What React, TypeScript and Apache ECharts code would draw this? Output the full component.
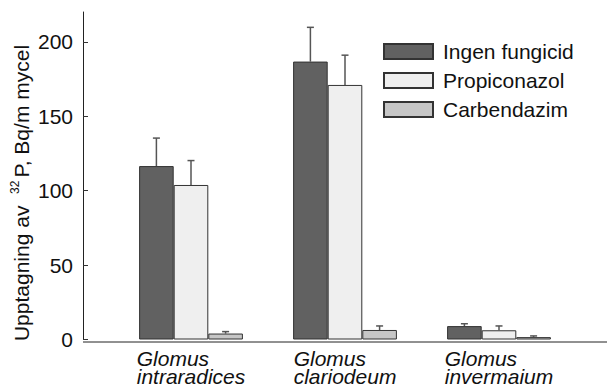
import React, { useEffect, useRef } from "react";
import * as echarts from "echarts";

const categories = ["Glomus intraradices", "Glomus clariodeum", "Glomus invermaium"];
const seriesNames = ["Ingen fungicid", "Propiconazol", "Carbendazim"];
const ingenValues = [116.5, 186.7, 9.0];
const propiValues = [103.8, 171.0, 6.2];
const carbValues = [4.0, 6.4, 1.6];
const ingenErr = [18.8, 23.0, 1.6];
const propiErr = [16.4, 20.0, 2.9];
const carbErr = [1.3, 2.7, 0.8];
const yTicks = { min: 0, max: 220, interval: 50 };
const yAxisTitle = "{n|Upptagning av  }{sup|32}{n|P, Bq/m mycel}";

const FONT = "'Liberation Sans', Arial, sans-serif";
const W = 607;
const H = 387;
const GRID_LEFT = 114;
const GRID_RIGHT = 31;
const GRID_TOP = 12;
const GRID_BOTTOM = 45;
const Y_OFFSET = 31;
const BAR_W = 34.6;
const COLORS = ["#616161", "#efefef", "#c6c6c6"];

export default function App() {
  const ref = useRef<HTMLDivElement>(null);
  useEffect(() => {
    if (!ref.current) return;
    const chart = echarts.init(ref.current, undefined, { renderer: "svg" });
    const values = [ingenValues, propiValues, carbValues];
    const errs = [ingenErr, propiErr, carbErr];
    const errData: number[][] = [];
    values.forEach((arr, s) =>
      arr.forEach((v, i) => errData.push([i, v, errs[s][i], s]))
    );
    const axisX = GRID_LEFT - Y_OFFSET;
    const axisY = H - GRID_BOTTOM;
    chart.setOption({
      animation: false,
      textStyle: { fontFamily: FONT },
      grid: { left: GRID_LEFT, right: GRID_RIGHT, top: GRID_TOP, bottom: GRID_BOTTOM, containLabel: false },
      legend: {
        data: seriesNames,
        orient: "vertical",
        left: 383,
        top: 41,
        padding: 0,
        itemWidth: 49,
        itemHeight: 15,
        itemGap: 8,
        icon: "rect",
        textStyle: { fontSize: 21, color: "#111", fontFamily: FONT, lineHeight: 15, padding: [0, 0, 0, 5] },
      },
      xAxis: {
        type: "category",
        data: categories,
        axisLine: { show: false },
        axisTick: { show: false },
        axisLabel: {
          margin: 10,
          formatter: (v: string) => {
            const parts = v.split(" ");
            return `{a|${parts[0]}}\n{a|${parts[1]}}`;
          },
          rich: {
            a: { fontSize: 21, fontStyle: "italic", fontFamily: FONT, color: "#111", lineHeight: 18, align: "left" },
          },
        },
      },
      yAxis: {
        type: "value",
        min: yTicks.min,
        max: yTicks.max,
        interval: yTicks.interval,
        offset: Y_OFFSET,
        splitLine: { show: false },
        axisLine: { show: true, lineStyle: { color: "#222", width: 1 } },
        axisTick: { show: true, inside: true, length: 5, lineStyle: { color: "#333" } },
        axisLabel: { fontSize: 21, color: "#111", margin: 10, fontFamily: FONT, showMaxLabel: false },
      },
      graphic: [
        {
          type: "line",
          shape: { x1: axisX, y1: axisY, x2: W, y2: axisY },
          style: { stroke: "#222", lineWidth: 1 },
          z: 10,
        },
        {
          type: "text",
          x: 21,
          y: 193,
          rotation: Math.PI / 2,
          style: {
            text: yAxisTitle,
            align: "center",
            verticalAlign: "middle",
            fontSize: 21,
            fontFamily: FONT,
            fill: "#111",
            rich: {
              n: { fontSize: 21, fill: "#111", fontFamily: FONT, lineHeight: 24 },
              sup: { fontSize: 12, verticalAlign: "top", lineHeight: 24, fill: "#111", fontFamily: FONT, padding: [0, 3, 0, 0] },
            },
          },
        },
      ],
      series: [
        ...seriesNames.map((name, s) => ({
          name,
          type: "bar",
          data: values[s],
          barWidth: BAR_W,
          barGap: "0%",
          itemStyle: { color: COLORS[s], borderColor: "#333", borderWidth: 1 },
        })),
        {
          type: "custom",
          name: "err",
          data: errData,
          encode: { x: 0, y: 1 },
          z: 1,
          renderItem: (params: any, api: any) => {
            const ci = api.value(0);
            const v = api.value(1);
            const e = api.value(2);
            const s = api.value(3);
            const base = api.coord([ci, v]);
            const top = api.coord([ci, v + e]);
            const cx = base[0] + (s - 1) * BAR_W;
            const style = { stroke: "#555", lineWidth: 1.5 };
            return {
              type: "group",
              children: [
                { type: "line", shape: { x1: cx, y1: base[1], x2: cx, y2: top[1] }, style },
                { type: "line", shape: { x1: cx - 3.5, y1: top[1], x2: cx + 3.5, y2: top[1] }, style },
              ],
            };
          },
        },
      ],
    });
    return () => chart.dispose();
  }, []);
  return (
    <div
      ref={ref}
      style={{ position: "fixed", left: 0, top: 0, width: W, height: H, background: "#fff" }}
    />
  );
}
